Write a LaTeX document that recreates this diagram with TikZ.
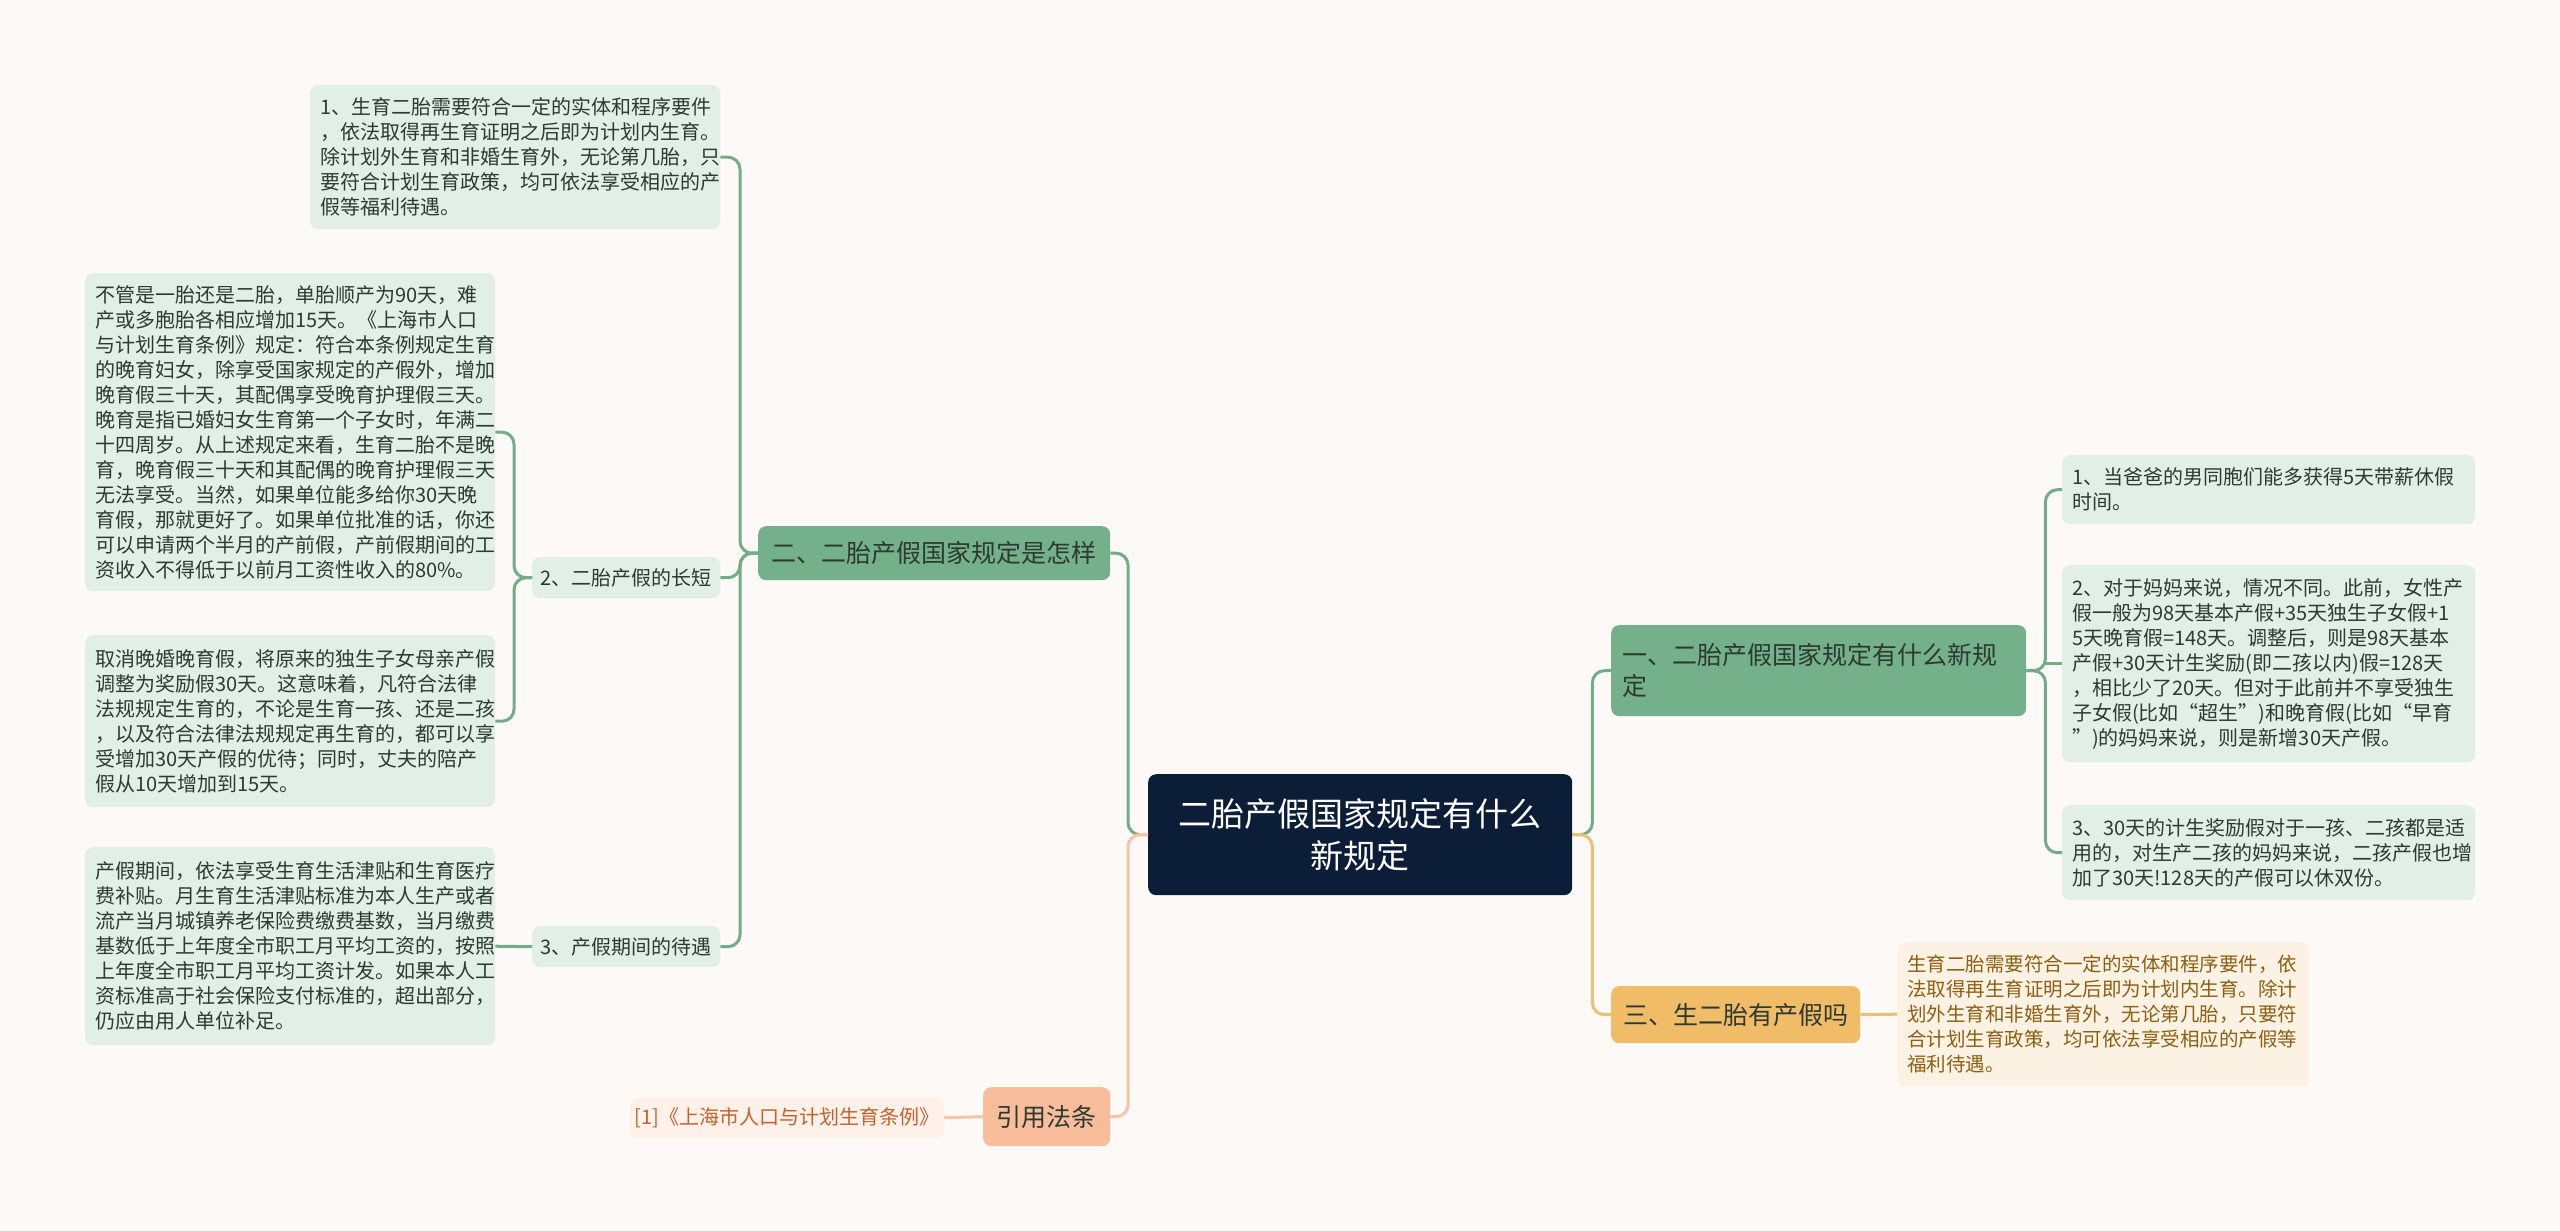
\documentclass[tikz,border=0pt]{standalone}
\usepackage{fontspec}
\setmainfont{Noto Sans CJK SC}
\definecolor{bgc}{HTML}{FCF9F7}
\definecolor{rootc}{HTML}{0C1D38}
\definecolor{brG}{HTML}{74B08A}
\definecolor{lineG}{HTML}{72AD87}
\definecolor{leafG}{HTML}{E2EFE6}
\definecolor{txtG}{HTML}{2C3A31}
\definecolor{lineP}{HTML}{F7C4A8}
\definecolor{brP}{HTML}{F9BD9C}
\definecolor{leafP}{HTML}{FDF1EA}
\definecolor{txtP}{HTML}{C4622D}
\definecolor{lineY}{HTML}{EBC073}
\definecolor{brY}{HTML}{F0BC67}
\definecolor{leafY}{HTML}{FCF2E3}
\definecolor{txtY}{HTML}{8C5F12}
\tikzset{
  conn/.style={line width=3pt, rounded corners=12pt},
  gline/.style={conn, draw=lineG},
  pline/.style={conn, draw=lineP},
  yline/.style={conn, draw=lineY},
  boxbase/.style={rounded corners=8pt, anchor=north west, inner ysep=0pt},
  leaf/.style={boxbase, fill=leafG, text=txtG, align=left, inner xsep=10pt,
    font=\fontsize{20}{25}\selectfont},
  midleaf/.style={boxbase, fill=leafG, text=txtG, align=center, inner xsep=0pt,
    font=\fontsize{20}{25}\selectfont},
  brgreen/.style={boxbase, fill=brG, text=txtG, inner xsep=0pt,
    font=\fontsize{25}{31}\selectfont},
  rootbox/.style={boxbase, fill=rootc, text=white, align=center, inner xsep=0pt,
    font=\fontsize{33}{42}\selectfont},
}
\begin{document}
\begin{tikzpicture}[x=1pt,y=-1pt]
\useasboundingbox (0,0) rectangle (2560,1231);
\fill[bgc] (0,0) rectangle (2560,1231);

% root
\node[rootbox, minimum width=424pt, minimum height=121pt] (root) at (1148,774)
  {二胎产假国家规定有什么\\新规定};

% right side branches
\node[brgreen, align=left, inner xsep=11pt, text width=393pt, minimum height=91pt] (b1) at (1611,625)
  {一、二胎产假国家规定有什么新规\\定};
\node[boxbase, fill=brY, text=txtG, align=center, minimum width=249pt, minimum height=57pt,
  font=\fontsize{25}{31}\selectfont] (b3) at (1611,986) {三、生二胎有产假吗};

% left side branches
\node[brgreen, align=center, minimum width=352pt, minimum height=54pt] (b2) at (758,526)
  {二、二胎产假国家规定是怎样};
\node[boxbase, fill=brP, text=txtG, align=center, minimum width=127pt, minimum height=59pt,
  font=\fontsize{25}{31}\selectfont] (yin) at (983,1087) {引用法条};
\node[boxbase, fill=leafP, text=txtP, align=center, minimum width=314pt, minimum height=41pt,
  font=\fontsize{20}{25}\selectfont] (ref) at (630,1097) {[1]《上海市人口与计划生育条例》};

% leaves of b2
\node[leaf, text width=390pt, minimum height=144pt] (c1) at (310,85)
  {1、生育二胎需要符合一定的实体和程序要件\\
   ，依法取得再生育证明之后即为计划内生育。\\
   除计划外生育和非婚生育外，无论第几胎，只\\
   要符合计划生育政策，均可依法享受相应的产\\
   假等福利待遇。};
\node[midleaf, minimum width=188pt, minimum height=41pt] (c2) at (532,557) {2、二胎产假的长短};
\node[midleaf, minimum width=188pt, minimum height=41pt] (c3) at (532,926) {3、产假期间的待遇};

\node[leaf, text width=390pt, minimum height=318pt] (d1) at (85,273)
  {不管是一胎还是二胎，单胎顺产为90天，难\\
   产或多胞胎各相应增加15天。《上海市人口\\
   与计划生育条例》规定：符合本条例规定生育\\
   的晚育妇女，除享受国家规定的产假外，增加\\
   晚育假三十天，其配偶享受晚育护理假三天。\\
   晚育是指已婚妇女生育第一个子女时，年满二\\
   十四周岁。从上述规定来看，生育二胎不是晚\\
   育，晚育假三十天和其配偶的晚育护理假三天\\
   无法享受。当然，如果单位能多给你30天晚\\
   育假，那就更好了。如果单位批准的话，你还\\
   可以申请两个半月的产前假，产前假期间的工\\
   资收入不得低于以前月工资性收入的80\%。};
\node[leaf, text width=390pt, minimum height=172pt] (d2) at (85,635)
  {取消晚婚晚育假，将原来的独生子女母亲产假\\
   调整为奖励假30天。这意味着，凡符合法律\\
   法规规定生育的，不论是生育一孩、还是二孩\\
   ，以及符合法律法规规定再生育的，都可以享\\
   受增加30天产假的优待；同时，丈夫的陪产\\
   假从10天增加到15天。};
\node[leaf, text width=390pt, minimum height=198pt] (d3) at (85,847)
  {产假期间，依法享受生育生活津贴和生育医疗\\
   费补贴。月生育生活津贴标准为本人生产或者\\
   流产当月城镇养老保险费缴费基数，当月缴费\\
   基数低于上年度全市职工月平均工资的，按照\\
   上年度全市职工月平均工资计发。如果本人工\\
   资标准高于社会保险支付标准的，超出部分，\\
   仍应由用人单位补足。};

% leaves of b1
\node[leaf, text width=393pt, minimum height=69pt] (e1) at (2062,455)
  {1、当爸爸的男同胞们能多获得5天带薪休假\\
   时间。};
\node[leaf, text width=393pt, minimum height=197pt] (e2) at (2062,565)
  {2、对于妈妈来说，情况不同。此前，女性产\\
   假一般为98天基本产假+35天独生子女假+1\\
   5天晚育假=148天。调整后，则是98天基本\\
   产假+30天计生奖励(即二孩以内)假=128天\\
   ，相比少了20天。但对于此前并不享受独生\\
   子女假(比如“超生”)和晚育假(比如“早育\\
   ”)的妈妈来说，则是新增30天产假。};
\node[leaf, text width=393pt, minimum height=95pt] (e3) at (2062,805)
  {3、30天的计生奖励假对于一孩、二孩都是适\\
   用的，对生产二孩的妈妈来说，二孩产假也增\\
   加了30天!128天的产假可以休双份。};

% leaf of b3
\node[leaf, fill=leafY, text=txtY, text width=392pt, minimum height=144pt,
  font=\fontsize{19.5}{25}\selectfont] (y1) at (1897,942)
  {生育二胎需要符合一定的实体和程序要件，依\\
   法取得再生育证明之后即为计划内生育。除计\\
   划外生育和非婚生育外，无论第几胎，只要符\\
   合计划生育政策，均可依法享受相应的产假等\\
   福利待遇。};

% connectors: root
\draw[gline] (root.east) -- ++(20,0) |- (b1.west);
\draw[yline] (root.east) -- ++(20,0) |- (b3.west);
\draw[gline] (root.west) -- ++(-20,0) |- (b2.east);
\draw[pline] (root.west) -- ++(-20,0) |- (yin.east);

% b2 children
\draw[gline] (b2.west) -- ++(-18,0) |- (c1.east);
\draw[gline] (b2.west) -- ++(-18,0) |- (c2.east);
\draw[gline] (b2.west) -- ++(-18,0) |- (c3.east);
\draw[gline] (c2.west) -- ++(-18,0) |- (d1.east);
\draw[gline] (c2.west) -- ++(-18,0) |- (d2.east);
\draw[gline] (c3.west) -- (d3.east);

% b1 children
\draw[gline] (b1.east) -- ++(19,0) |- (e1.west);
\draw[gline] (b1.east) -- ++(19,0) |- (e3.west);
\draw[gline] (e2.west) -- ++(-19,0);

% b3 and yin children
\draw[yline] (b3.east) -- (y1.west);
\draw[pline] (yin.west) -- (ref.east);
\end{tikzpicture}
\end{document}
